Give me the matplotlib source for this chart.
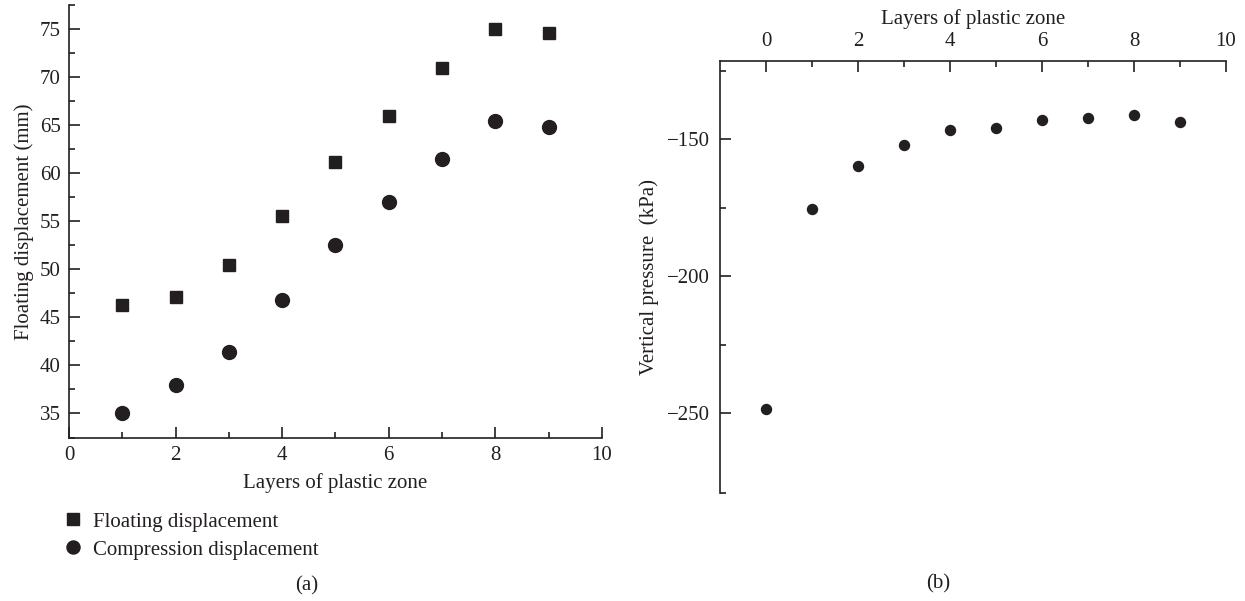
import matplotlib
matplotlib.use("Agg")
import matplotlib.pyplot as plt
from matplotlib.ticker import MultipleLocator, FixedLocator
from matplotlib.lines import Line2D

plt.rcParams['font.family'] = ['Liberation Serif', 'DejaVu Serif']
plt.rcParams['axes.unicode_minus'] = True

INK = '#231f20'

# Panel (a)
layers_a = [1, 2, 3, 4, 5, 6, 7, 8, 9]
floating = [46.25, 47.1, 50.45, 55.55, 61.2, 66.0, 70.9, 75.0, 74.6]
compression = [35.05, 38.0, 41.35, 46.8, 52.5, 57.0, 61.5, 65.4, 64.85]

# Panel (b)
layers_b = [0, 1, 2, 3, 4, 5, 6, 7, 8, 9]
pressure = [-248.5, -175.5, -159.7, -152.1, -146.6, -145.8, -143.0, -142.3, -141.1, -143.6]

fig = plt.figure(figsize=(12.45, 6.01), dpi=100)

FS = 15

# ---- (a)
ax1 = fig.add_axes([0.0554, 0.272, 0.4281, 0.7197])
ax1.plot(layers_a, floating, linestyle='none', marker='s', ms=8.6, color=INK, mec=INK)
ax1.plot(layers_a, compression, linestyle='none', marker='o', ms=10, color=INK, mec=INK)
ax1.set_xlim(0, 10)
ax1.set_ylim(32.5, 77.5)
ax1.xaxis.set_major_locator(MultipleLocator(2))
ax1.xaxis.set_minor_locator(MultipleLocator(1))
ax1.yaxis.set_major_locator(FixedLocator([35, 40, 45, 50, 55, 60, 65, 70, 75]))
ax1.yaxis.set_minor_locator(MultipleLocator(2.5))
for s in ['top', 'right']:
    ax1.spines[s].set_visible(False)
for s in ['left', 'bottom']:
    ax1.spines[s].set_color(INK)
    ax1.spines[s].set_linewidth(1.2)
ax1.tick_params(which='both', direction='in', colors=INK, labelcolor=INK, labelsize=FS, width=1.2)
ax1.tick_params(which='major', length=8, pad=6)
ax1.tick_params(which='minor', length=4)
ax1.set_xlabel('Layers of plastic zone', fontsize=FS, color=INK, labelpad=6)
ax1.set_ylabel('Floating displacement (mm)', fontsize=FS, color=INK, labelpad=4)

handles = [
    Line2D([], [], linestyle='none', marker='s', ms=8.4, color=INK),
    Line2D([], [], linestyle='none', marker='o', ms=9.4, color=INK),
]
ax1.legend(handles, ['Floating displacement', 'Compression displacement'],
           loc='upper left', bbox_to_anchor=(0.051, 1 - 512 / 601),
           bbox_transform=fig.transFigure, frameon=False, fontsize=FS,
           handlelength=0.9, handletextpad=0.5, labelspacing=0.4,
           borderpad=0, borderaxespad=0, labelcolor=INK)

fig.text(307 / 1245, 1 - 586 / 601, '(a)', ha='center', va='center', fontsize=FS, color=INK)

# ---- (b)
ax2 = fig.add_axes([0.5783, 0.1802, 0.4064, 0.7188])
ax2.plot(layers_b, pressure, linestyle='none', marker='o', ms=7.2, color=INK, mec=INK)
ax2.set_xlim(-1, 10)
ax2.set_ylim(-279, -121.3)
ax2.xaxis.set_major_locator(MultipleLocator(2))
ax2.xaxis.set_minor_locator(FixedLocator([1, 3, 5, 7, 9]))
ax2.yaxis.set_major_locator(FixedLocator([-250, -200, -150]))
ax2.yaxis.set_minor_locator(FixedLocator([-279, -225, -175, -125]))
ax2.xaxis.tick_top()
ax2.xaxis.set_label_position('top')
for s in ['bottom', 'right']:
    ax2.spines[s].set_visible(False)
for s in ['left', 'top']:
    ax2.spines[s].set_color(INK)
    ax2.spines[s].set_linewidth(1.2)
ax2.tick_params(which='both', direction='in', colors=INK, labelcolor=INK, labelsize=FS, width=1.2)
ax2.tick_params(which='major', length=8, pad=7)
ax2.tick_params(which='minor', length=4)
ax2.set_xlabel('Layers of plastic zone', fontsize=FS, color=INK, labelpad=6)
ax2.set_ylabel('Vertical pressure  (kPa)', fontsize=FS, color=INK, labelpad=6)

fig.text(938 / 1245, 1 - 584 / 601, '(b)', ha='center', va='center', fontsize=FS, color=INK)

fig.savefig('out.png', dpi=100, facecolor='white')
